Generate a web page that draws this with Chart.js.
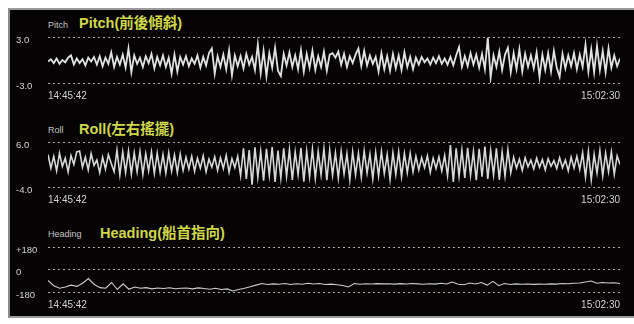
<!DOCTYPE html>
<html>
<head>
<meta charset="utf-8">
<script src="https://cdn.jsdelivr.net/npm/chart.js@4/dist/chart.umd.min.js"></script>
<style>
  html, body { margin:0; padding:0; background:#ffffff; }
  body { width:634px; height:324px; position:relative; overflow:hidden; }
  #panel { position:absolute; left:8px; top:8px; width:626px; height:310px; background:#060304;
           border-left:2px solid #8a8a8a; border-top:2px solid #9a9a9a; border-bottom:2px solid #9a9a9a; box-sizing:border-box; }
  canvas { position:absolute; left:0; }
  .small { position:absolute; color:#c4c4c4; font:9px "Liberation Sans", Arial, sans-serif; line-height:10px; white-space:nowrap; }
  .title { position:absolute; color:#d0d84a; font:bold 14.5px "Liberation Sans", "Noto Sans CJK TC", Arial, sans-serif; line-height:16px; white-space:nowrap; }
</style>
</head>
<body>
<div id="panel"></div>
<div class="small" style="left:48px;top:20px;">Pitch</div>
<div class="title" style="left:79px;top:15px;">Pitch(前後傾斜)</div>
<div class="small" style="left:48px;top:125px;">Roll</div>
<div class="title" style="left:79px;top:121px;">Roll(左右搖擺)</div>
<div class="small" style="left:48px;top:229px;">Heading</div>
<div class="title" style="left:100px;top:225px;">Heading(船首指向)</div>
<canvas id="cPitch" width="634" height="80" style="top:27px"></canvas>
<canvas id="cRoll" width="634" height="80" style="top:132px"></canvas>
<canvas id="cHeading" width="634" height="80" style="top:237px"></canvas>
<script>
// ---- DATA ----
const timeLabels = ['14:45:42', '15:02:30'];

const pitchTicks = [3, -3];
const pitchTickLabels = ['3.0', '-3.0'];
const pitchValues = [
  -0.2, 0.1, -0.4, 0.2, -0.5, 0.0, -0.3, 0.3, 0.6, -0.6, 0.2, -0.4, 0.1, -0.7, 0.3, -0.2, 0.4, -0.6, 0.5, -0.8,
  0.3, -0.5, 1.0, -0.9, 0.4, -0.6, 0.7, -1.0, 1.5, -1.6, 0.6, -0.5, 0.3, -0.9, 0.5, -0.4, 0.8, -1.1, 0.4, -0.7,
  0.6, -0.9, 0.3, -1.8, 0.7, -1.5, 0.4, -0.6, 0.5, -0.8, 0.2, -0.5, 0.6, -1.0, 0.4, -0.7, 0.9, 1.5, -1.8, 0.5,
  -0.9, 0.7, -1.2, 1.3, -2.0, 0.6, -0.8, 0.5, -1.1, 0.8, -0.6, 0.4, -1.3, 2.0, -1.7, 1.2, -2.1, 0.9, -1.0, 1.6,
  -1.4, -2.1, 0.8, -0.7, 1.0, -0.9, 0.6, -1.2, 1.3, -1.5, 0.8, -1.0, 1.2, -1.3, 0.5, -0.9, 1.1, -1.4, 0.7, 0.9,
  0.3, 1.1, -0.6, 0.8, -0.9, 0.5, -0.4, 0.7, 1.5, -0.8, 1.2, -0.7, 0.6, -0.5, 0.4, -1.5, 0.9, -1.2, 0.5, -1.4,
  0.8, -1.1, 0.6, -1.3, 1.0, -0.9, 0.4, -1.2, 0.3, -0.6, 0.4, -0.3, 0.2, -0.6, 0.3, -0.4, 0.5, -0.5, 0.2, -0.6,
  0.4, -0.7, 0.6, 1.7, -0.9, 0.5, -0.8, 0.9, -0.6, 0.7, -1.0, 0.8, -1.2, 2.9, -2.3, 0.6, -0.9, 1.1, -1.3, 0.7,
  1.6, -1.6, 0.9, -1.2, 1.4, -1.5, 0.8, -0.9, 0.6, -1.1, 1.0, -2.2, 0.7, -1.3, 0.9, -1.5, 1.2, -1.0, -2.2, 0.8,
  -1.1, 0.6, -0.8, 0.9, -1.2, 0.7, -0.9, 2.0, -1.5, 1.4, -1.6, 1.8, -1.3, 1.2, -1.6, 1.5, -1.0, 0.6, -0.8, 0.2
];

const rollTicks = [6, -4];
const rollTickLabels = ['6.0', '-4.0'];
const rollValues = [
  3.2, 0.2, 2.8, -0.4, 3.5, 0.6, 2.4, -0.6, 3.0, 1.0, 3.8, 4.0, 0.4, 2.6, -0.2, 3.4, 0.8, 2.0, -0.8, 2.6, 0.0, 3.2, 1.2, -0.6,
  4.2, -1.3, 3.8, -0.8, 4.0, -1.1, 3.6, -0.6, 3.9, -1.2, 3.4, -0.4, 3.8, -1.0, 3.5, -0.7, 3.2, -0.9, 3.6, -0.5, 3.1, -0.8, 3.3, -0.3,
  2.6, 0.0, 2.8, -0.5, 2.4, 0.2, 2.9, -0.6, 2.2, 0.4, 2.7, -0.3, 2.5, 0.1, 3.0, -0.7, 2.3, 0.3, 2.8,
  -1.5, 4.6, -2.2, 4.2, -3.5, 4.8, -1.8, 3.9, -2.6, 4.5, -1.4, 4.9, -2.9, 4.1, -2.0, 4.6, -1.6, 4.3, -2.4, 3.8, -1.2, 4.7, -2.8, 4.0, -1.7, 4.4, -2.1, 3.9, -1.3, 4.5, -2.5, 4.2,
  -1.4, 3.6, -2.0, 3.9, -1.1, 3.4, -2.4, 3.8, -1.3, 3.5, -1.8, 4.0, -0.9, 3.3, -2.2, 3.7, -1.5, 3.9, -1.0, 3.2, -2.3, 3.6, -1.2, 3.8, -1.7, 3.4, -0.8, 3.5,
  -0.6, 2.8, -0.2, 2.5, 0.3, 2.9, -0.7, 2.4, 0.1, 2.7, -0.4, 3.0,
  -1.5, 5.3, -2.9, 4.6, -1.6,
  4.2, -2.0, 4.7, -1.4, 3.9, -2.5, 4.5, -1.7, 5.0, -2.2, 4.1, -1.3, 4.6, -2.4, 3.8, -1.6, 4.3,
  -0.8, 2.6, 0.2, 2.2, -0.3, 2.5, 0.5, 2.0, 0.0, 2.4, 0.4, 2.1, -0.2, 2.3, 0.6, 1.9, 0.1, 2.5, 0.3, 2.0, -0.4, 2.6, 0.2, 2.8, -0.1,
  3.6, -1.8, 3.9, -2.4, 3.2, -0.9, 4.1, -1.5, 3.5, -0.6, 3.8, -1.2, 2.9, 1.0
];

const headingTicks = [180, 0, -180];
const headingTickLabels = ['+180', '0', '-180'];
const headingValues = [
  -88, -130, -150, -140, -125, -135, -110, -72, -120, -145,
  -150, -104, -160, -115, -158, -140, -150, -145, -155, -148,
  -152, -146, -154, -150, -148, -155, -147, -152, -158, -150,
  -160, -155, -172, -160, -150, -138, -125, -112, -120, -115,
  -118, -112, -120, -114, -118, -110, -116, -112, -120, -117,
  -122, -128, -140, -112, -118, -114, -116, -113, -115, -114,
  -117, -113, -116, -112, -115, -118, -114, -117, -110, -116,
  -100, -118, -122, -108, -116, -104, -125, -95, -130, -112,
  -120, -115, -118, -116, -119, -117, -118, -115, -117, -112,
  -114, -110, -108, -100, -92, -110, -104, -108, -106, -112
];

// ---- CHARTS ----
function makeChart(id, values, yMin, yMax, ticks, tickLabels, lineColor, lineWidth, padBottom) {
  const n = values.length;
  const pts = values.map((v, i) => ({ x: i, y: v }));
  return new Chart(document.getElementById(id), {
    type: 'line',
    data: { datasets: [{ data: pts, borderColor: lineColor, borderWidth: lineWidth, pointRadius: 0, tension: 0, fill: false }] },
    options: {
      responsive: false, animation: false, devicePixelRatio: 1, events: [],
      layout: { padding: { left: 16, right: 14, top: 10, bottom: padBottom } },
      plugins: { legend: { display: false }, tooltip: { enabled: false } },
      scales: {
        x: {
          type: 'linear', min: 0, max: n - 1,
          grid: { display: false, drawTicks: false },
          border: { display: false },
          afterBuildTicks: s => { s.ticks = [{ value: 0 }, { value: n - 1 }]; },
          afterFit: s => { s.height = 20; },
          ticks: {
            autoSkip: false, maxRotation: 0, align: 'inner', padding: 7,
            color: '#d2d2d2', font: { family: 'Liberation Sans', size: 10 },
            callback: v => (v === 0 ? timeLabels[0] : timeLabels[1])
          }
        },
        y: {
          min: yMin, max: yMax,
          grid: { color: '#a8a8a8', lineWidth: 1, drawTicks: false },
          border: { display: false, dash: [2, 3] },
          afterBuildTicks: s => { s.ticks = ticks.map(v => ({ value: v })); },
          afterFit: s => { s.width = 32; },
          ticks: {
            crossAlign: 'far', padding: 0, labelOffset: 3,
            color: '#d2d2d2', font: { family: 'Liberation Sans', size: 9.5 },
            callback: v => tickLabels[ticks.indexOf(v)]
          }
        }
      }
    }
  });
}

makeChart('cPitch', pitchValues, -3, 3, pitchTicks, pitchTickLabels, '#e2e2e2', 1.8, 4);
makeChart('cRoll', rollValues, -4, 6, rollTicks, rollTickLabels, '#d8d8d8', 1.6, 5);
makeChart('cHeading', headingValues, -180, 180, headingTicks, headingTickLabels, '#cdcdcd', 1.1, 5);
</script>
</body>
</html>
